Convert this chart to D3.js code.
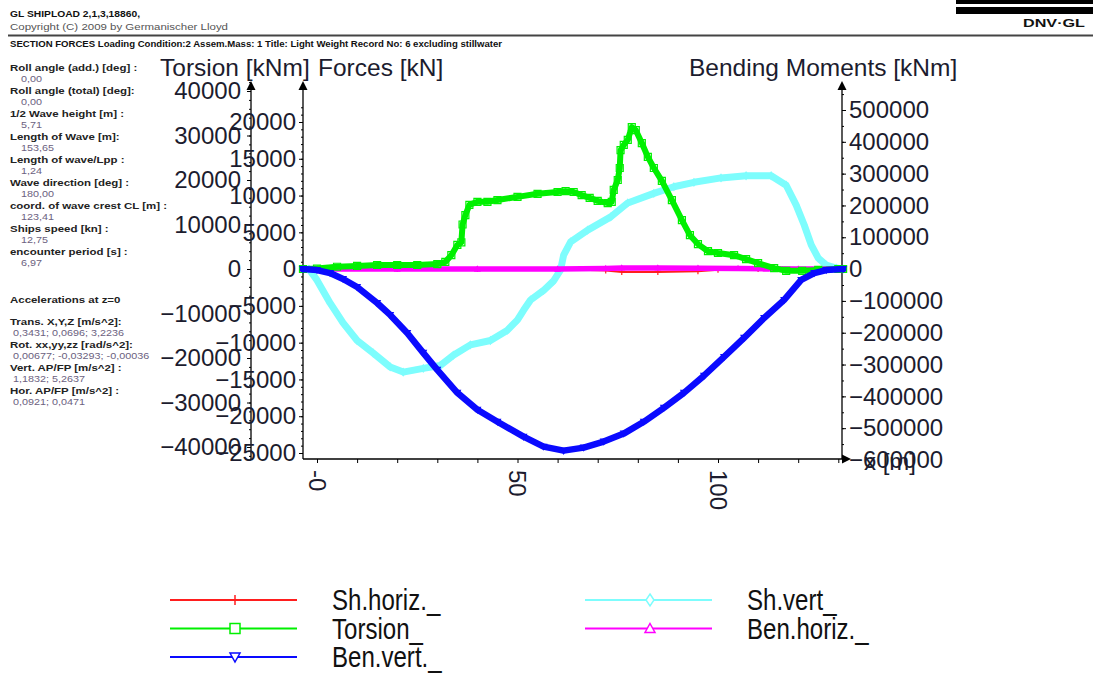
<!DOCTYPE html>
<html>
<head>
<meta charset="utf-8">
<script src="https://cdn.jsdelivr.net/npm/d3@7"></script>
<style>
  body { margin: 0; background: #fff; }
  svg { display: block; font-family: "Liberation Sans", Arial, sans-serif; }
</style>
</head>
<body>
<svg id="chart" width="1093" height="675"></svg>
<script>
// ---- section-force curves: [x position (m), value] ----
const shHoriz = [[-3.5,0],[20,0],[40,0],[60,0],[72,-200],[76,-400],[85,-400],[95,-300],[100,-100],[110,0],[131.2,0]];
const torsion = [[-3.5,0],[0,100],[5,500],[10,700],[15,900],[20,900],[25,900],[30,1100],[32,1600],[33.5,3100],[35,5400],
  [36,6000],[36.3,10000],[37,12100],[38,14400],[40,15100],[42.5,15100],[45,15500],[50,16200],[55,16900],[60,17300],
  [62,17500],[64,17300],[66,16600],[68,16000],[70,15300],[72.5,14800],[73.5,15100],[74,17800],[75,20000],[75.5,22700],
  [75.7,26700],[76.5,27900],[77.5,29000],[78.5,31900],[79.5,31200],[81,28300],[82.5,25200],[84,22700],[86,19800],
  [88.5,15500],[91,11000],[93,7600],[95,5600],[97.5,4000],[100,3600],[104,3100],[107,2200],[110,1300],[114,200],
  [117,-400],[121,-400],[125,-200],[130,0],[131.2,0]];
const benVert = [[-3.5,0],[0,-3000],[3.25,-12500],[6.5,-31000],[10,-56400],[15,-106600],[18.25,-144200],[22.5,-200600],
  [26.5,-263300],[30,-316600],[35,-388700],[40,-442000],[45,-479600],[51.5,-526700],[56.5,-558000],[61.5,-570600],
  [66.5,-561000],[71.5,-542000],[76.5,-517000],[81.5,-480000],[86.5,-436000],[91.5,-389000],[96.5,-335000],
  [101.5,-276000],[106.5,-216000],[111.5,-153600],[116.5,-97000],[120.75,-34000],[124,-12500],[127,-3000],[131.2,0]];
const shVert = [[-2,0],[0,-1500],[3.25,-4600],[6.5,-7300],[10,-9700],[14,-11400],[18.25,-13300],[21.5,-14000],
  [26.5,-13500],[30.75,-13100],[34,-11700],[38.25,-10300],[43.25,-9700],[47.5,-8300],[50,-6900],[51.5,-5600],
  [53.25,-4200],[56.5,-2900],[59,-1600],[60.75,-100],[61.5,1900],[63.25,3700],[67.5,5300],[73.25,7100],[77.5,9000],
  [84,10300],[89,11200],[94,11800],[100.75,12400],[107,12700],[113.25,12700],[117,11400],[119.5,8700],[121.5,6000],
  [123.25,3300],[125,1500],[127,540],[129.5,140],[131.2,0]];
const benHoriz = [[-3.5,0],[20,0],[40,0],[60,0],[72,2000],[76,3500],[85,3500],[95,3000],[105,2000],[112,800],[120,0],[131.2,0]];

// ---- axis ticks and labels ----
const xTickValues = [0, 50, 100];
const xTickLabels = ["-0", "50", "100"];
const torsionTicks = [-40000, -30000, -20000, -10000, 0, 10000, 20000, 30000, 40000];
const forceTicks = [-25000, -20000, -15000, -10000, -5000, 0, 5000, 10000, 15000, 20000];
const momentTicks = [-600000, -500000, -400000, -300000, -200000, -100000, 0, 100000, 200000, 300000, 400000, 500000];

// ---- legend ----
const seriesNames = ["Sh.horiz._", "Torsion_", "Ben.vert._", "Sh.vert_", "Ben.horiz._"];
const seriesColors = ["#ff1e1e", "#00f000", "#0a0aff", "#7dfdfd", "#ff00ff"];

// ---- header and load-case information ----
const headerLines = ["GL SHIPLOAD 2,1,3,18860,", "Copyright (C) 2009 by Germanischer Lloyd"];
const sectionTitle = "SECTION FORCES Loading Condition:2 Assem.Mass: 1 Title: Light Weight Record No: 6 excluding stillwater";
const infoLabels = ["Roll angle (add.) [deg] :", "Roll angle (total) [deg]:", "1/2 Wave height [m] :", "Length of Wave [m]:",
  "Length of wave/Lpp :", "Wave direction [deg] :", "coord. of wave crest CL [m] :", "Ships speed [kn] :", "encounter period [s] :"];
const infoValues = ["0,00", "0,00", "5,71", "153,65", "1,24", "180,00", "123,41", "12,75", "6,97"];
const accelTitle = "Accelerations at z=0";
const accelLabels = ["Trans. X,Y,Z  [m/s^2]:", "Rot. xx,yy,zz [rad/s^2]:", "Vert. AP/FP [m/s^2] :", "Hor. AP/FP [m/s^2] :"];
const accelValues = ["0,3431; 0,0696; 3,2236", "0,00677; -0,03293; -0,00036", "1,1832; 5,2637", "0,0921; 0,0471"];

const svg = d3.select("#chart");
const ink = "#1c1c2e";

// header
svg.append("text").attr("x", 10).attr("y", 17).attr("font-size", 9).attr("font-weight", "bold").attr("fill", "#111")
  .attr("textLength", 130).attr("lengthAdjust", "spacingAndGlyphs").text(headerLines[0]);
svg.append("text").attr("x", 10).attr("y", 30).attr("font-size", 9).attr("fill", "#555")
  .attr("textLength", 218).attr("lengthAdjust", "spacingAndGlyphs").text(headerLines[1]);
svg.append("rect").attr("x", 8).attr("y", 34.5).attr("width", 1085).attr("height", 2).attr("fill", "#444");
svg.append("text").attr("x", 10).attr("y", 47).attr("font-size", 8.8).attr("font-weight", "bold").attr("fill", "#111")
  .attr("textLength", 492).attr("lengthAdjust", "spacingAndGlyphs").text(sectionTitle);

// company mark
svg.append("rect").attr("x", 956).attr("y", 0).attr("width", 137).attr("height", 4).attr("fill", "#000");
svg.append("rect").attr("x", 956).attr("y", 7).attr("width", 137).attr("height", 7).attr("fill", "#000");
svg.append("text").attr("x", 1023).attr("y", 27).attr("font-size", 10).attr("font-weight", "bold")
  .attr("textLength", 62).attr("lengthAdjust", "spacingAndGlyphs").attr("fill", "#111").text("DNV·GL");

// load-case panel (widened lettering: labels and values scaled separately)
const LS = 1.22, VS = 1.15;
const infoL = svg.append("g").attr("font-size", 9.4).attr("font-weight", "bold").attr("fill", "#222").attr("transform", `scale(${LS},1)`);
const infoV = svg.append("g").attr("font-size", 9.4).attr("fill", "#6b6180").attr("transform", `scale(${VS},1)`);
infoLabels.forEach((t, i) => {
  const y = 71 + i * 23;
  infoL.append("text").attr("x", 10 / LS).attr("y", y).text(t);
  infoV.append("text").attr("x", 21 / VS).attr("y", y + 11).text(infoValues[i]);
});
infoL.append("text").attr("x", 10 / LS).attr("y", 303).text(accelTitle);
accelLabels.forEach((t, i) => {
  const y = 325 + i * 23;
  infoL.append("text").attr("x", 10 / LS).attr("y", y).text(t);
  infoV.append("text").attr("x", 13 / VS).attr("y", y + 11).text(accelValues[i]);
});

// scales
const x = d3.scaleLinear().domain([0, 100]).range([317, 718]);
const yT = d3.scaleLinear().domain([-40000, 40000]).range([447, 91]);
const yF = d3.scaleLinear().domain([-25000, 20000]).range([453, 122]);
const yM = d3.scaleLinear().domain([-600000, 500000]).range([460, 110]);

const axisBottomY = 459, axisTopY = 83;
const xLeft = 251, xForce = 303, xRight = 842;

function arrowUp(g, cx) {
  g.append("path").attr("d", `M${cx},${axisTopY - 2} L${cx - 4.5},${axisTopY + 7} L${cx + 4.5},${axisTopY + 7} Z`).attr("fill", "#000");
}
function styleAxis(g, fs) {
  g.select(".domain").remove();
  g.selectAll(".tick line").attr("stroke", "#000").attr("stroke-width", 1);
  g.selectAll(".tick text").attr("fill", ink).attr("font-size", fs).attr("font-family", "'Liberation Sans', Arial, sans-serif");
}

// torsion axis
const gT = svg.append("g").attr("transform", `translate(${xLeft},0)`);
gT.append("g").call(d3.axisLeft(yT).tickValues(d3.range(-42000, 42001, 2000)).tickSize(2).tickFormat(""))
  .call(g => styleAxis(g, 24));
gT.append("g").call(d3.axisLeft(yT).tickValues(torsionTicks).tickSize(4).tickPadding(6).tickFormat(d3.format("d")))
  .call(g => styleAxis(g, 24));
gT.append("line").attr("y1", axisBottomY).attr("y2", axisTopY).attr("stroke", "#000").attr("stroke-width", 1.3);
arrowUp(gT, 0);

// forces axis
const gF = svg.append("g").attr("transform", `translate(${xForce},0)`);
gF.append("g").call(d3.axisLeft(yF).tickValues(d3.range(-25000, 22001, 1000)).tickSize(2).tickFormat(""))
  .call(g => styleAxis(g, 24));
gF.append("g").call(d3.axisLeft(yF).tickValues(forceTicks).tickSize(4).tickPadding(3).tickFormat(d3.format("d")))
  .call(g => styleAxis(g, 24));
gF.append("line").attr("y1", axisBottomY).attr("y2", axisTopY).attr("stroke", "#000").attr("stroke-width", 1.3);
arrowUp(gF, 0);

// bending moment axis
const gM = svg.append("g").attr("transform", `translate(${xRight},0)`);
gM.append("g").call(d3.axisRight(yM).tickValues(d3.range(-600000, 550001, 50000)).tickSize(2).tickFormat(""))
  .call(g => styleAxis(g, 24));
gM.append("g").call(d3.axisRight(yM).tickValues(momentTicks).tickSize(4).tickPadding(3).tickFormat(d3.format("d")))
  .call(g => styleAxis(g, 24));
gM.append("line").attr("y1", axisBottomY).attr("y2", axisTopY).attr("stroke", "#000").attr("stroke-width", 1.3);
arrowUp(gM, 0);

// x axis
const gX = svg.append("g").attr("transform", `translate(0,${axisBottomY})`);
gX.append("g").call(d3.axisBottom(x).tickValues(d3.range(0, 131, 10)).tickSize(4).tickFormat(""))
  .call(g => styleAxis(g, 24));
gX.append("line").attr("x1", xForce).attr("x2", xRight).attr("stroke", "#000").attr("stroke-width", 1.3);
gX.append("path").attr("d", `M${xRight + 9},0 L${xRight},-4.5 L${xRight},4.5 Z`).attr("fill", "#000");
gX.selectAll("text.xlab").data(xTickValues).join("text").attr("class", "xlab")
  .attr("transform", d => `translate(${x(d)},11) rotate(90)`)
  .attr("dy", "0.35em").attr("font-size", 24).attr("fill", ink)
  .text((d, i) => xTickLabels[i]);

// axis titles
const titles = svg.append("g").attr("font-size", 24.5).attr("fill", ink);
titles.append("text").attr("x", 160).attr("y", 76).text("Torsion [kNm]");
titles.append("text").attr("x", 318).attr("y", 76).text("Forces [kN]");
titles.append("text").attr("x", 689).attr("y", 76).text("Bending Moments [kNm]");
svg.append("text").attr("x", 864).attr("y", 470).attr("font-size", 24).attr("fill", ink).text("x [m]");

// marker symbols
const markerPath = {
  plus: s => `M0,${-s} V${s}`,
  square: s => `M${-s},${-s} H${s} V${s} H${-s} Z`,
  tdown: s => `M${-s},${-s * 0.8} H${s} L0,${s} Z`,
  diamond: s => `M0,${-s * 1.2} L${s * 0.8},0 L0,${s * 1.2} L${-s * 0.8},0 Z`,
  tup: s => `M0,${-s} L${s},${s * 0.8} H${-s} Z`
};

// curves
const series = [
  { data: shHoriz, y: yF, color: seriesColors[0], width: 2, marker: "plus", ms: 3 },
  { data: shVert, y: yF, color: seriesColors[3], width: 7, marker: "diamond", ms: 3 },
  { data: benHoriz, y: yM, color: seriesColors[4], width: 5.5, marker: "tup", ms: 2.5 },
  { data: torsion, y: yT, color: seriesColors[1], width: 6, marker: "square", ms: 3.5 },
  { data: benVert, y: yM, color: seriesColors[2], width: 6.5, marker: "tdown", ms: 3 }
];
const plot = svg.append("g");
series.forEach(s => {
  const line = d3.line().x(d => x(d[0])).y(d => s.y(d[1]));
  plot.append("path").datum(s.data).attr("d", line).attr("fill", "none").attr("stroke", s.color)
    .attr("stroke-width", s.width).attr("stroke-linejoin", "round").attr("stroke-linecap", "round");
  plot.append("g").selectAll("path").data(s.data).join("path")
    .attr("transform", d => `translate(${x(d[0])},${s.y(d[1])})`)
    .attr("d", markerPath[s.marker](s.ms)).attr("fill", "none").attr("stroke", s.color).attr("stroke-width", 1.2);
});

// legend
const legendItems = [
  { name: seriesNames[0], color: seriesColors[0], marker: "plus", col: 0, row: 0 },
  { name: seriesNames[1], color: seriesColors[1], marker: "square", col: 0, row: 1 },
  { name: seriesNames[2], color: seriesColors[2], marker: "tdown", col: 0, row: 2 },
  { name: seriesNames[3], color: seriesColors[3], marker: "diamond", col: 1, row: 0 },
  { name: seriesNames[4], color: seriesColors[4], marker: "tup", col: 1, row: 1 }
];
const legend = svg.append("g");
legendItems.forEach(it => {
  const x0 = it.col === 0 ? 170 : 585;
  const y0 = 600 + it.row * 28.5;
  legend.append("line").attr("x1", x0).attr("x2", x0 + 127).attr("y1", y0).attr("y2", y0)
    .attr("stroke", it.color).attr("stroke-width", 2);
  legend.append("path").attr("transform", `translate(${x0 + 65},${y0})`)
    .attr("d", markerPath[it.marker](5)).attr("fill", "#fff").attr("stroke", it.color).attr("stroke-width", 1.5);
  legend.append("text").attr("transform", `translate(${x0 + 162},${y0 + 10}) scale(0.83,1)`)
    .attr("font-size", 29).attr("fill", "#111").text(it.name);
});
</script>
</body>
</html>
